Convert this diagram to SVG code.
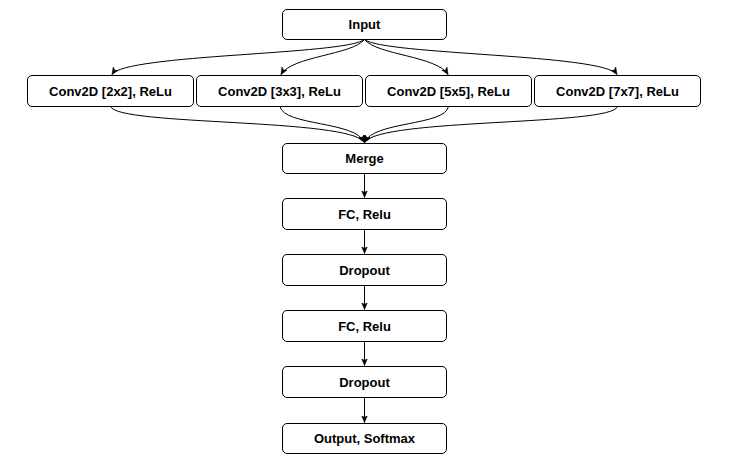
<svg xmlns="http://www.w3.org/2000/svg" width="729" height="463" viewBox="0 0 729 463">
<style>
.box{fill:#fff;stroke:#000;stroke-width:1}
.lbl{font-family:"Liberation Sans",Arial,sans-serif;font-weight:bold;font-size:13px;fill:#000;text-anchor:middle;dominant-baseline:central}
.edge{fill:none;stroke:#000;stroke-width:1;marker-end:url(#ah)}
</style>
<defs>
<marker id="ah" markerWidth="8" markerHeight="8" refX="7" refY="4" orient="auto" markerUnits="userSpaceOnUse">
<path d="M0,1 L7,4 L0,7 L2,4 Z" fill="#000" stroke="#000" stroke-width="0.5"/>
</marker>
</defs>
<rect width="729" height="463" fill="#fff"/>
<g id="connectors">
<path class="edge" d="M364.5,39.5 C345,55 125,54 112,74.5"/>
<path class="edge" d="M364.5,39.5 C352,55 292,56 281,74.5"/>
<path class="edge" d="M364.5,39.5 C377,55 437,56 448,74.5"/>
<path class="edge" d="M364.5,39.5 C384,55 604,54 617,74.5"/>
<path class="edge" d="M110.5,106.5 C118,126 350,118 364.5,142.5"/>
<path class="edge" d="M280,106.5 C284,126 356,121 364.5,142.5"/>
<path class="edge" d="M448.5,106.5 C445,126 373,121 364.5,142.5"/>
<path class="edge" d="M617.5,106.5 C612,126 379,118 364.5,142.5"/>
<path class="edge" d="M364.5,173.5 L364.5,197.5"/>
<path class="edge" d="M364.5,229.5 L364.5,253.5"/>
<path class="edge" d="M364.5,285.5 L364.5,309.5"/>
<path class="edge" d="M364.5,341.5 L364.5,365.5"/>
<path class="edge" d="M364.5,397.5 L364.5,422.5"/>
</g>
<g id="input"><rect class="box" x="282.5" y="9.5" width="164" height="30" rx="4.5"/><text class="lbl" x="364.5" y="24.5">Input</text></g>
<g id="conv2"><rect class="box" x="27.5" y="75.5" width="166" height="31" rx="4.5"/><text class="lbl" x="110.5" y="91">Conv2D [2x2], ReLu</text></g>
<g id="conv3"><rect class="box" x="196.5" y="75.5" width="166" height="31" rx="4.5"/><text class="lbl" x="279.5" y="91">Conv2D [3x3], ReLu</text></g>
<g id="conv5"><rect class="box" x="365.5" y="75.5" width="166" height="31" rx="4.5"/><text class="lbl" x="448.5" y="91">Conv2D [5x5], ReLu</text></g>
<g id="conv7"><rect class="box" x="534.5" y="75.5" width="166" height="31" rx="4.5"/><text class="lbl" x="617.5" y="91">Conv2D [7x7], ReLu</text></g>
<g id="merge"><rect class="box" x="282.5" y="143.5" width="164" height="30" rx="4.5"/><text class="lbl" x="364.5" y="158.5">Merge</text></g>
<g id="fc1"><rect class="box" x="282.5" y="198.5" width="164" height="31" rx="4.5"/><text class="lbl" x="364.5" y="214">FC, Relu</text></g>
<g id="drop1"><rect class="box" x="282.5" y="254.5" width="164" height="31" rx="4.5"/><text class="lbl" x="364.5" y="270">Dropout</text></g>
<g id="fc2"><rect class="box" x="282.5" y="310.5" width="164" height="31" rx="4.5"/><text class="lbl" x="364.5" y="326">FC, Relu</text></g>
<g id="drop2"><rect class="box" x="282.5" y="366.5" width="164" height="31" rx="4.5"/><text class="lbl" x="364.5" y="382">Dropout</text></g>
<g id="output"><rect class="box" x="282.5" y="423.5" width="164" height="30" rx="4.5"/><text class="lbl" x="364.5" y="438.5">Output, Softmax</text></g>
</svg>
